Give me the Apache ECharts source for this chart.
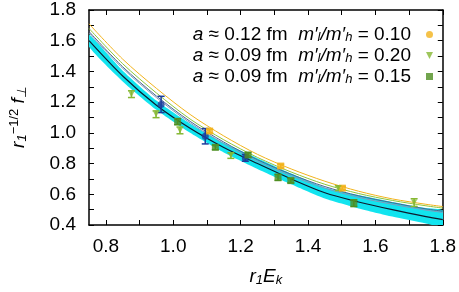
<!DOCTYPE html>
<html>
<head>
<meta charset="utf-8">
<script src="https://cdn.jsdelivr.net/npm/echarts@6/dist/echarts.min.js"></script>
<style>
  html, body { margin: 0; padding: 0; background: #fff; }
  #chart { width: 459px; height: 292px; }
</style>
</head>
<body>
<div id="chart"></div>
<script>
// x grid for the fit curves
const curveX = [0.75, 0.85, 0.95, 1.05, 1.15, 1.25, 1.35, 1.45, 1.55, 1.65, 1.75, 1.8];
const bandLower = [1.56, 1.335, 1.15, 1.0, 0.872, 0.765, 0.665, 0.572, 0.508, 0.455, 0.41, 0.39];
const bandUpper = [1.64, 1.405, 1.21, 1.06, 0.935, 0.835, 0.735, 0.645, 0.595, 0.55, 0.51, 0.495];
const centralFit = [1.60, 1.37, 1.18, 1.03, 0.905, 0.80, 0.70, 0.61, 0.55, 0.50, 0.455, 0.435];
const orangeFit = [1.71, 1.48, 1.29, 1.12, 0.98, 0.86, 0.765, 0.685, 0.62, 0.57, 0.535, 0.52];
const greenFit = [1.68, 1.45, 1.26, 1.09, 0.955, 0.84, 0.745, 0.665, 0.605, 0.56, 0.525, 0.51];
const slateFit = [1.66, 1.43, 1.24, 1.075, 0.94, 0.825, 0.73, 0.65, 0.59, 0.545, 0.505, 0.49];
const steelFit = [1.65, 1.42, 1.23, 1.065, 0.93, 0.815, 0.72, 0.64, 0.58, 0.535, 0.497, 0.482];

// data points: [x, y, error]
const ptsA012 = [[1.108, 1.012, 0.012], [1.319, 0.784, 0.012], [1.502, 0.640, 0.012]];
const ptsA009r20 = [[0.876, 1.252, 0.022], [0.949, 1.121, 0.022], [1.020, 1.016, 0.022],
  [1.171, 0.852, 0.018], [1.490, 0.640, 0.015], [1.715, 0.546, 0.025]];
const ptsA009r15 = [[1.013, 1.073, 0.02], [1.125, 0.906, 0.015], [1.222, 0.856, 0.015],
  [1.311, 0.710, 0.02], [1.349, 0.689, 0.015], [1.536, 0.542, 0.022]];
const ptsBlue = [[0.964, 1.185, 0.053], [1.095, 0.978, 0.05], [1.214, 0.837, 0.022]];

const legendNames = ['a ≈ 0.12 fm m′l/m′h = 0.10', 'a ≈ 0.09 fm m′l/m′h = 0.20', 'a ≈ 0.09 fm m′l/m′h = 0.15'];
const legendRich = [
  '{i|a} ≈ 0.12 fm  {i|m′}{s|l}{i|/m′}{s|h} = 0.10',
  '{i|a} ≈ 0.09 fm  {i|m′}{s|l}{i|/m′}{s|h} = 0.20',
  '{i|a} ≈ 0.09 fm  {i|m′}{s|l}{i|/m′}{s|h} = 0.15'
];

const xTicks = [0.8, 0.9, 1.0, 1.1, 1.2, 1.3, 1.4, 1.5, 1.6, 1.7, 1.8];
const xLabels = [0.8, 1.0, 1.2, 1.4, 1.6, 1.8];
const yTicks = [0.4, 0.5, 0.6, 0.7, 0.8, 0.9, 1.0, 1.1, 1.2, 1.3, 1.4, 1.5, 1.6, 1.7, 1.8];
const yLabels = [0.4, 0.6, 0.8, 1.0, 1.2, 1.4, 1.6, 1.8];

const FONT = 'Liberation Sans';
const DOWN_TRI = 'path://M0,0L10,0L5,10Z';
const chart = echarts.init(document.getElementById('chart'));

const pair = (ys) => curveX.map((x, i) => [x, ys[i]]);
const fitLine = (name, ys, color, width) => ({
  name, type: 'line', data: pair(ys), smooth: 0.3, symbol: 'none', silent: true,
  lineStyle: { color, width }, z: 3, animation: false
});

const errBars = (pts, color) => ({
  type: 'custom', data: pts, z: 4, silent: true, animation: false,
  renderItem: (params, api) => {
    const x = api.value(0), y = api.value(1), e = api.value(2);
    const top = api.coord([x, y + e]);
    const bot = api.coord([x, y - e]);
    const hw = 3.5;
    const st = { stroke: color, lineWidth: 1.5 };
    return {
      type: 'group', children: [
        { type: 'line', shape: { x1: top[0], y1: top[1], x2: bot[0], y2: bot[1] }, style: st },
        { type: 'line', shape: { x1: top[0] - hw, y1: top[1], x2: top[0] + hw, y2: top[1] }, style: st },
        { type: 'line', shape: { x1: bot[0] - hw, y1: bot[1], x2: bot[0] + hw, y2: bot[1] }, style: st }
      ]
    };
  }
});

const pointSeries = (name, pts, color, symbol, size) => ({
  name, type: 'scatter', data: pts.map(p => [p[0], p[1]]), symbol, symbolSize: size,
  itemStyle: { color }, z: 5, animation: false
});

// cyan error band between bandLower and bandUpper
const bandSeries = {
  type: 'custom', data: [0], z: 1, silent: true, clip: true, animation: false,
  renderItem: (params, api) => {
    const up = curveX.map((x, i) => api.coord([x, bandUpper[i]]));
    const lo = curveX.map((x, i) => api.coord([x, bandLower[i]])).reverse();
    return {
      type: 'polygon', shape: { points: up.concat(lo), smooth: 0.2 },
      style: { fill: '#12e4ef', stroke: null }
    };
  }
};

const axisBase = {
  type: 'value',
  axisLine: { show: true, onZero: false, lineStyle: { color: '#000', width: 1.5 } },
  axisTick: { show: true, inside: true, length: 5, lineStyle: { color: '#000', width: 1 } },
  splitLine: { show: false }
};

chart.setOption({
  animation: false,
  grid: { left: 85, right: 14, top: 10, bottom: 61 },
  xAxis: [
    Object.assign({}, axisBase, {
      min: 0.75, max: 1.8, position: 'bottom',
      axisTick: Object.assign({}, axisBase.axisTick, { customValues: xTicks }),
      axisLabel: { customValues: xLabels, color: '#000', fontFamily: FONT, fontSize: 19, margin: 12,
        formatter: v => v.toFixed(1) },
      name: '{i|r}{s|1}{i|E}{s|k}', nameLocation: 'middle', nameGap: 41,
      nameTextStyle: { color: '#000', fontFamily: FONT, fontSize: 19,
        rich: { i: { fontStyle: 'italic', fontSize: 19, fontFamily: FONT, color: '#000' },
                s: { fontStyle: 'italic', fontSize: 13, fontFamily: FONT, color: '#000', verticalAlign: 'bottom', padding: [8, 0, 0, 0] } } }
    }),
    Object.assign({}, axisBase, {
      min: 0.75, max: 1.8, position: 'top',
      axisTick: Object.assign({}, axisBase.axisTick, { customValues: xTicks }),
      axisLabel: { show: false }
    })
  ],
  yAxis: [
    Object.assign({}, axisBase, {
      min: 0.4, max: 1.8, position: 'left',
      axisTick: Object.assign({}, axisBase.axisTick, { customValues: yTicks }),
      axisLabel: { customValues: yLabels, color: '#000', fontFamily: FONT, fontSize: 19, margin: 13,
        formatter: v => v.toFixed(1) },
      name: '{i|r}{s|1}{p|−1/2}{i| f}{s|⊥}', nameLocation: 'middle', nameGap: 60, nameRotate: 90,
      nameTextStyle: { color: '#000', fontFamily: FONT, fontSize: 19,
        rich: { i: { fontStyle: 'italic', fontSize: 19, fontFamily: FONT, color: '#000' },
                s: { fontStyle: 'italic', fontSize: 13, fontFamily: FONT, color: '#000', verticalAlign: 'bottom', padding: [8, 0, 0, 0] },
                p: { fontSize: 13, fontFamily: FONT, color: '#000', verticalAlign: 'top', padding: [0, 0, 8, 0] } } }
    }),
    Object.assign({}, axisBase, {
      min: 0.4, max: 1.8, position: 'right',
      axisTick: Object.assign({}, axisBase.axisTick, { customValues: yTicks }),
      axisLabel: { show: false }
    })
  ],
  legend: {
    orient: 'vertical', right: 21, top: 20, align: 'right', itemGap: 2,
    itemWidth: 7, itemHeight: 7, selectedMode: false,
    data: [
      { name: legendNames[0], icon: 'circle' },
      { name: legendNames[1], icon: DOWN_TRI },
      { name: legendNames[2], icon: 'rect' }
    ],
    formatter: name => legendRich[legendNames.indexOf(name)],
    textStyle: { color: '#000', fontFamily: FONT, fontSize: 19, lineHeight: 19, padding: [0, 10, 0, 0],
      rich: { i: { fontStyle: 'italic', fontSize: 19, fontFamily: FONT, color: '#000' },
              s: { fontStyle: 'italic', fontSize: 13, fontFamily: FONT, color: '#000', verticalAlign: 'bottom', padding: [8, 0, 0, 0] } } }
  },
  series: [
    bandSeries,
    fitLine('central', centralFit, '#0d1b2e', 1.2),
    fitLine('steel', steelFit, '#7f9bbd', 1),
    fitLine('slate', slateFit, '#4a6590', 1),
    fitLine('green', greenFit, '#8cc43c', 1),
    fitLine('orange', orangeFit, '#f2b31c', 1),
    errBars(ptsBlue, '#1c3c9c'),
    errBars(ptsA012, '#f2b31c'),
    errBars(ptsA009r20, '#86b833'),
    errBars(ptsA009r15, '#4f8f22'),
    pointSeries('blue', ptsBlue, '#1c3c9c', 'circle', 7),
    pointSeries(legendNames[0], ptsA012, '#f2b31c', 'rect', 7),
    pointSeries(legendNames[1], ptsA009r20, '#86b833', DOWN_TRI, 6),
    pointSeries(legendNames[2], ptsA009r15, '#4f8f22', 'rect', 7)
  ]
});
</script>
</body>
</html>
